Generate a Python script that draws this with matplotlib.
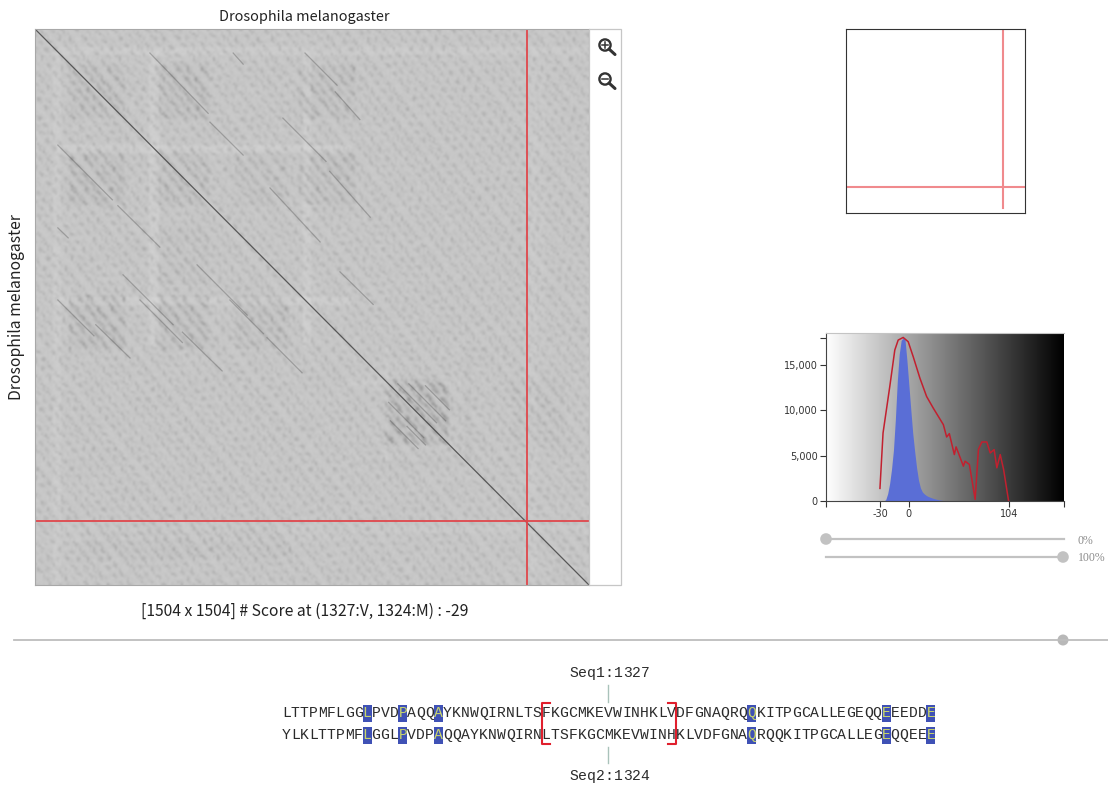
import numpy as np
import matplotlib
matplotlib.use("Agg")
import matplotlib.pyplot as plt
from matplotlib.patches import Circle, Rectangle

plt.rcParams["font.family"] = ["Noto Sans CJK SC", "DejaVu Sans"]

W, H = 1108, 785

# ---- data ----
seq_len = 1504
seq_name = "Drosophila melanogaster"
caption = "[1504 x 1504] # Score at (1327:V, 1324:M) : -29"

# cursor as drawn (the crosshair sits a little off the nominal 1327/1324)
cursor_x = 1336
cursor_y = 1331

# off-diagonal repeats: x0, y0, x1, y1 in residues
repeat_segments = [
    (312, 65, 470, 228), (475, 252, 565, 341), (538, 65, 565, 95),
    (733, 65, 820, 152), (815, 170, 882, 245), (673, 241, 790, 358), (800, 385, 910, 509),
    (638, 430, 774, 576), (828, 657, 918, 745),
    (62, 314, 210, 462), (225, 478, 339, 590), (62, 538, 90, 565), (239, 665, 375, 800),
    (440, 638, 576, 774), (62, 733, 160, 830), (165, 800, 258, 890), (285, 733, 400, 848),
    (400, 820, 508, 925), (529, 733, 620, 824), (630, 835, 725, 930),
    (985, 960, 1090, 1065), (1015, 960, 1115, 1060), (960, 1010, 1055, 1105),
    (1060, 965, 1125, 1030), (965, 1060, 1040, 1135), (1010, 1075, 1060, 1125),
]
# blocks with denser streaks: x0, x1, y0, y1, strength
repeat_blocks = [
    (95, 244, 95, 244, 0.5), (325, 475, 95, 244, 0.6), (718, 867, 95, 244, 0.55),
    (95, 244, 325, 475, 0.6), (325, 475, 325, 475, 0.5), (718, 867, 325, 475, 0.55),
    (542, 691, 325, 475, 0.3), (325, 475, 542, 691, 0.3),
    (95, 244, 718, 867, 0.7), (325, 475, 718, 867, 0.6), (542, 691, 718, 867, 0.5),
    (949, 1125, 949, 1125, 1.1), (130, 700, 1342, 1436, 0.25), (1290, 1440, 950, 1130, 0.25),
]
# pale bands: x0, x1, y0, y1, lift (mirrored about the diagonal when drawn)
light_bands = [
    (50, 72, 60, 1500, 0.016), (312, 334, 60, 860, 0.024), (727, 749, 60, 860, 0.022),
    (950, 962, 860, 1180, 0.014), (1340, 1362, 60, 1500, 0.01),
    (1170, 1182, 860, 1180, -0.012), (90, 860, 1370, 1385, 0.008),
]
# streak profiles for the score texture
streak_across = [0.1, 0.6, 1.0, 0.5, 0.1, 0.0, 0.0, 0.3, 0.8, 0.7, 0.2, 0.0, 0.5, 1.0, 0.6, 0.1,
                 0.0, 0.0, 0.0, 0.2, 0.9, 0.8, 0.2, 0.0, 0.4, 0.7, 0.3, 0.0, 0.0, 0.6, 1.0, 0.4,
                 0.0, 0.2, 0.5, 0.2, 0.0, 0.0, 0.7, 0.9, 0.3, 0.1, 0.0, 0.4, 0.8, 0.5, 0.0]
streak_along = [1.0, 0.9, 0.6, 0.3, 0.0, 0.0, 0.1, 0.5, 0.9, 1.0, 0.7, 0.2, 0.0, 0.0, 0.0, 0.3,
                0.8, 1.0, 0.9, 0.4, 0.1, 0.0, 0.4, 0.8, 1.0, 0.6, 0.2, 0.0, 0.0, 0.5, 0.9,
                1.0, 0.6, 0.2, 0.0, 0.2, 0.7]
streak_long = [0.3, 0.7, 1.0, 1.0, 1.0, 0.9, 0.8, 0.9, 1.0, 1.0, 0.8, 0.4, 0.1, 0.0, 0.0, 0.2,
               0.6, 0.9, 1.0, 1.0, 0.9, 1.0, 1.0, 0.7, 0.3, 0.0, 0.0, 0.1, 0.2]
phase = [0, 11, 5, 23, 2, 17, 29, 8, 14, 3, 26, 19, 7, 32, 12, 1, 21, 9, 28, 16, 4, 25, 13, 30, 6,
         18, 34, 10, 22, 15, 27]
speckle = [0.0, 0.5, 1.0, 0.4, -0.3, -0.8, -0.4, 0.2, 0.7, 0.2, -0.5, -1.0, -0.3, 0.6, 0.9,
           0.1, -0.6, -0.2, 0.3]

# overview box markers
overview_x = 1319
overview_y = 1291

# score histogram
hist_bins = [-26, -24, -22, -20, -18, -16, -14, -12, -10, -8, -6, -4, -2, 0, 2, 4, 6, 8, 10, 12,
             14, 16, 18, 20, 22, 24, 26, 28, 30, 32, 34, 36, 38]
hist_counts = [0, 150, 800, 1900, 3500, 5600, 9000, 13200, 16200, 17700, 18000, 17800, 15500,
               12800, 10100, 7500, 5500, 3700, 2300, 1450, 1000, 780, 620, 500, 420, 340, 270,
               210, 160, 110, 80, 50, 20]
curve_x = [-30, -26.8, -19.8, -14.6, -11.1, -5.9, -0.7, 4.5, 11.5, 18.4, 25.3, 35.8, 39.2, 42,
           47.2, 49, 56.6, 58.3, 62.8, 68.8, 72.2, 75.7, 80.9, 84.4, 88.5, 91.3, 94.8, 98.3, 103.5]
curve_y = [1390, 7500, 12630, 16650, 17750, 18040, 17570, 15920, 13540, 11530, 10250, 8420, 7060,
           7430, 5120, 5970, 3840, 4390, 4030, 180, 5670, 6510, 6510, 5300, 5670, 3660, 5120,
           3480, 0]

# alignment
seq1_parts = ["LTTPMFLGGLPVDPAQQAYKNWQIRNLTS", "FKGCMKEVWINHKLV", "DFGNAQRQQKITPGCALLEGEQQEEEDDE"]
seq2_parts = ["YLKLTTPMFLGGLPVDPAQQAYKNWQIRN", "LTSFKGCMKEVWINH", "KLVDFGNAQRQQKITPGCALLEGEQQEEE"]
match_columns = [9, 13, 17, 52, 67, 72]
seq1_label = "Seq1:1327"
seq2_label = "Seq2:1324"

fig = plt.figure(figsize=(W / 100, H / 100), dpi=100, facecolor="white")


def px_axes(x0, y0, x1, y1):
    return fig.add_axes([x0 / W, 1 - y1 / H, (x1 - x0) / W, (y1 - y0) / H])


# ---- dot plot ----
ax = px_axes(35, 29, 589, 585)
ny, nx = 278, 277
jj, ii = np.mgrid[0:ny, 0:nx]
u = (5 * ii - 4 * jj) // 5
shift = np.array(phase)[u % len(phase)]
p1 = np.array(streak_across)[u % len(streak_across)]
p2 = np.array(streak_along)[(ii + jj + shift) % len(streak_along)]
p2b = np.array(streak_long)[(ii + jj + shift) % len(streak_long)]
p3 = np.array(speckle)[(3 * ii + jj + np.array(phase)[(ii - 3 * jj) % len(phase)]) % len(speckle)]
cx = (ii + 0.5) / nx * seq_len
cy = (jj + 0.5) / ny * seq_len

score = np.full((ny, nx), 0.785)
block_amp = np.zeros((ny, nx))
for x0, x1, y0, y1, s in repeat_blocks:
    inside = (cx >= x0) & (cx < x1) & (cy >= y0) & (cy < y1)
    score[inside] -= 0.012 * min(s, 1)
    block_amp[inside] += 0.13 * s
for x0, x1, y0, y1, lift in light_bands:
    score[(cx >= x0) & (cx < x1) & (cy >= y0) & (cy < y1)] += lift
    score[(cy >= x0) & (cy < x1) & (cx >= y0) & (cx < y1)] += lift
score = score - 0.11 * p1 * p2 - block_amp * p1 * p2b + 0.016 * p3

ax.imshow(score, extent=[0, seq_len, seq_len, 0], cmap="gray", vmin=0, vmax=1,
          interpolation="bicubic", aspect="auto")
ax.plot([0, seq_len], [0, seq_len], color="#3c3c3c", lw=0.9, alpha=0.8)
for x0, y0, x1, y1 in repeat_segments:
    ax.plot([x0, x1], [y0, y1], color="#4d4d4d", lw=0.9, alpha=0.35)
ax.axvline(cursor_x, color="#e0474c", lw=1.3)
ax.axhline(cursor_y, color="#e0474c", lw=1.3)
ax.set_xlim(0, seq_len)
ax.set_ylim(seq_len, 0)
ax.set_xticks([])
ax.set_yticks([])
for s in ax.spines.values():
    s.set_color("#a8a8a8")
    s.set_linewidth(0.8)

# ---- overview ----
ov = px_axes(846, 29, 1025, 213)
ov.set_xlim(0, seq_len)
ov.set_ylim(seq_len, 0)
ov.set_xticks([])
ov.set_yticks([])
ov.axvline(overview_x, ymin=0.027, color="#f08a8d", lw=1.5)
ov.axhline(overview_y, color="#f08a8d", lw=1.5)
for s in ov.spines.values():
    s.set_color("#333333")
    s.set_linewidth(0.8)

# ---- histogram ----
hx = px_axes(826, 333, 1064, 501)
hist_xlim = (-86, 161)
hist_ylim = (0, 18530)
gradient = np.linspace(1, 0, 256).reshape(1, -1)
hx.imshow(gradient, extent=[*hist_xlim, *hist_ylim], cmap="gray", vmin=0, vmax=1, aspect="auto")
hx.fill_between(hist_bins, hist_counts, color="#5a6ed6", lw=0)
hx.plot(curve_x, curve_y, color="#c2202f", lw=1.1)
hx.set_xlim(*hist_xlim)
hx.set_ylim(*hist_ylim)
hx.set_xticks([-86, -30, 0, 104, 161])
hx.set_xticklabels(["", "-30", "0", "104", ""], fontsize=7, family="DejaVu Sans", color="#333333")
hx.set_yticks([0, 5000, 10000, 15000, 18000])
hx.set_yticklabels(["0", "5,000", "10,000", "15,000", ""], fontsize=7, family="DejaVu Sans",
                   color="#333333")
hx.tick_params(length=4, width=0.8, pad=2, color="#333333")
hx.spines["right"].set_visible(False)
hx.spines["top"].set_color("#c4c4c4")
hx.spines["left"].set_color("#444444")
hx.spines["bottom"].set_color("#444444")

# ---- page furniture: text, sliders, alignment ----
page = fig.add_axes([0, 0, 1, 1], facecolor="none")
page.set_xlim(0, W)
page.set_ylim(H, 0)
page.axis("off")

page.text(304, 17, seq_name, ha="center", va="center", fontsize=10.4, color="#222222")
page.text(17, 307, seq_name, ha="center", va="center", rotation=90, fontsize=11.3, color="#222222")
page.text(304.5, 611, caption, ha="center", va="center", fontsize=11.3, color="#222222")

page.add_patch(Rectangle((589, 29), 32, 556, fc="white", ec="#c6c6c6", lw=0.9))
for yc, with_plus in [(45, True), (79, False)]:
    page.add_patch(Circle((605, yc), 5.6, fc="none", ec="#333333", lw=1.7))
    page.plot([609, 615], [yc + 4, yc + 9.5], color="#333333", lw=2.2, solid_capstyle="round")
    page.plot([602, 608], [yc, yc], color="#333333", lw=1.1)
    if with_plus:
        page.plot([605, 605], [yc - 3, yc + 3], color="#333333", lw=1.1)

slider_grey = "#c2c2c2"
page.plot([14, 1108], [640, 640], color="#bdbdbd", lw=1.3)
page.add_patch(Circle((1063, 640), 5.5, fc="#b8b8b8", ec="none"))
page.plot([826, 1064], [539, 539], color=slider_grey, lw=1.6)
page.add_patch(Circle((826, 539), 5.8, fc=slider_grey, ec="none"))
page.plot([826, 1064], [557, 557], color=slider_grey, lw=1.6)
page.add_patch(Circle((1063, 557), 5.8, fc=slider_grey, ec="none"))
page.text(1078, 541, "0%", ha="left", va="center", fontsize=8.5, color="#8c8c8c", family="Liberation Serif")
page.text(1078, 558, "100%", ha="left", va="center", fontsize=8.5, color="#8c8c8c", family="Liberation Serif")

x0_align = 282
pitch = 8.95


def draw_mono(text, left, y, colors=None):
    for i, ch in enumerate(text):
        c = colors.get(i, "#2b2b2b") if colors else "#2b2b2b"
        page.text(left + (i + 0.5) * pitch, y, ch, ha="center", va="center", fontsize=10.6,
                  family="Liberation Mono", color=c)


for parts, y in [(seq1_parts, 713), (seq2_parts, 735)]:
    for col in match_columns:
        page.add_patch(Rectangle((x0_align + col * pitch, y - 8.5), pitch, 17, fc="#3f51b5", ec="none"))
    draw_mono("".join(parts), x0_align, y, {col: "#c9d66b" for col in match_columns})

draw_mono(seq1_label, 569, 673)
draw_mono(seq2_label, 569, 776)
page.plot([608, 608], [685, 702], color="#a9c2ba", lw=1)
page.plot([608, 608], [747, 763], color="#a9c2ba", lw=1)

left_col = x0_align + len(seq1_parts[0]) * pitch
right_col = left_col + len(seq1_parts[1]) * pitch
page.plot([left_col + 8, left_col, left_col, left_col + 8], [703, 703, 744, 744], color="#e01f2d", lw=1.5)
page.plot([right_col - 8, right_col, right_col, right_col - 8], [703, 703, 744, 744], color="#e01f2d", lw=1.5)

fig.savefig("out.png", dpi=100)
